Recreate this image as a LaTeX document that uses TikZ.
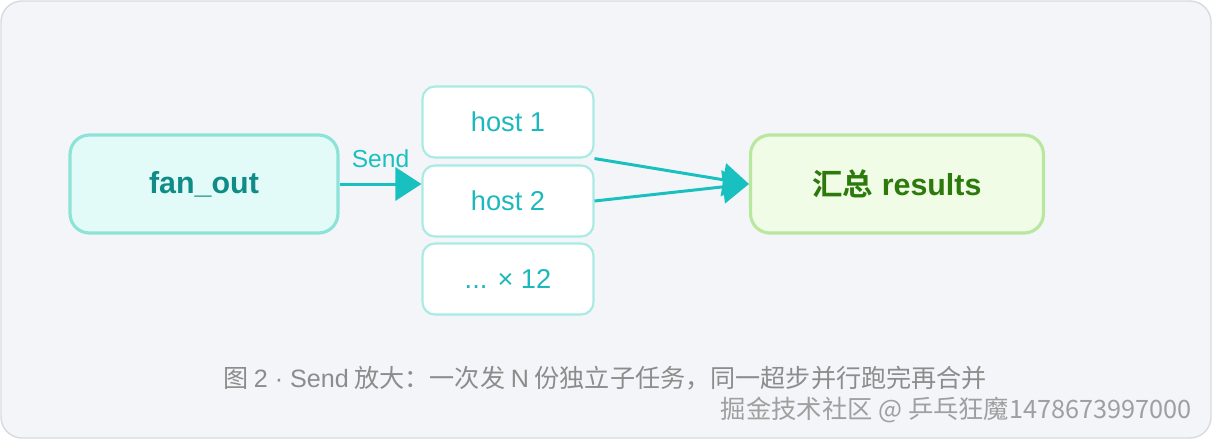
\documentclass[tikz,border=0pt]{standalone}
\usepackage{fontspec}
\setmainfont{Liberation Sans}
\newfontfamily\cjk{Noto Sans CJK SC}[BoldFont={Noto Sans CJK SC Bold}]
\usetikzlibrary{arrows.meta}
\definecolor{framefill}{HTML}{F4F5F8}
\definecolor{frameline}{HTML}{D8DADF}
\definecolor{fanfill}{HTML}{E2FBF8}
\definecolor{fanline}{HTML}{8EE3D9}
\definecolor{fantext}{HTML}{0F8C87}
\definecolor{hostline}{HTML}{A8EBE3}
\definecolor{hosttext}{HTML}{1CB8BE}
\definecolor{sendcol}{HTML}{19C0C0}
\definecolor{resfill}{HTML}{F1FCE6}
\definecolor{resline}{HTML}{B8E8A0}
\definecolor{restext}{HTML}{2D7A0C}
\definecolor{captext}{HTML}{8C8C8C}
\tikzset{
  bigbox/.style={draw,line width=1.8pt,rounded corners=11pt,minimum width=5.36cm,minimum height=1.96cm,font=\fontsize{17.3}{19}\selectfont\bfseries},
  hostbox/.style={draw=hostline,fill=white,line width=1.2pt,rounded corners=7pt,minimum width=3.42cm,minimum height=1.42cm,text=hosttext,font=\fontsize{15.5}{17}\selectfont},
  sendarrow/.style={draw=sendcol,line width=1.7pt,-{Triangle[length=0.52cm,width=0.66cm]}}
}
\begin{document}
\begin{tikzpicture}[x=0.02cm,y=-0.02cm]
    \useasboundingbox (0,0) rectangle (1212,440);
    \draw[fill=framefill,draw=frameline,line width=0.8pt,rounded corners=12pt] (1,1) rectangle (1211,438);
    \node[bigbox,draw=fanline,fill=fanfill,text=fantext]                      (fanout)  at (204,184) {fan\_out};
    \node[hostbox]                                                              (host1)   at (508,122) {host 1};
    \node[hostbox]                                                              (host2)   at (508,201) {host 2};
    \node[hostbox]                                                              (hostn)   at (508,279) {... × 12};
    \node[bigbox,draw=resline,fill=resfill,text=restext,minimum width=5.86cm] (results) at (897,184) {{\cjk\bfseries 汇总} results};
    \draw[sendarrow] (fanout.east) to node[above=5pt,text=sendcol,font=\fontsize{14}{16}\selectfont]{Send} (fanout.east -| host2.west);
    \draw[sendarrow] (host1.south east) to (results.west);
    \draw[sendarrow] (host2.east) to (results.west);
    \node[text=captext,font=\fontsize{14.3}{16}\selectfont\cjk]            (caption) at (605,378) {图 {\rmfamily 2 · Send} 放大：一次发 {\rmfamily N} 份独立子任务，同一超步并行跑完再合并};
    \node[anchor=east,text=gray!75,font=\fontsize{14.4}{16}\selectfont\cjk] (mark)    at (1198,410) {掘金技术社区 @ 乒乓狂魔1478673997000};
  \end{tikzpicture}
\end{document}
